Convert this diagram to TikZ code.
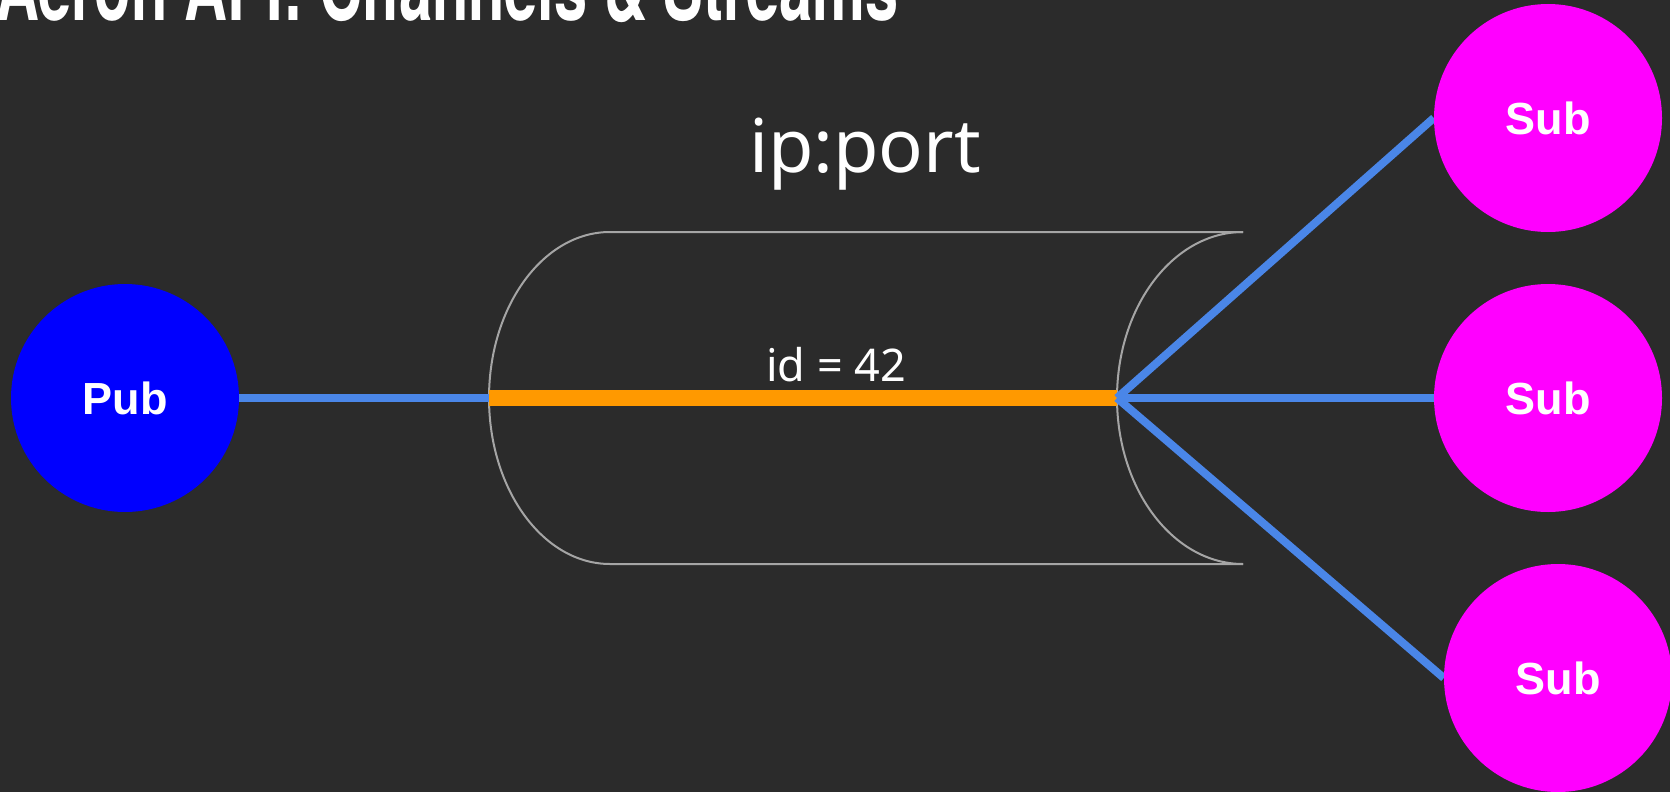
\documentclass[tikz,border=0pt]{standalone}
\usepackage{fontspec}
\usepackage{tikz}
\setmainfont{Noto Sans}
\newfontfamily\titlefont[FakeStretch=0.62]{TeX Gyre Heros}
\newfontfamily\nodefont{Liberation Sans}
\definecolor{slidebg}{RGB}{43,43,43}
\definecolor{pubblue}{RGB}{0,0,255}
\definecolor{submagenta}{RGB}{255,0,255}
\definecolor{wireblue}{RGB}{74,134,232}
\definecolor{streamorange}{RGB}{255,153,0}
\definecolor{pipegrey}{RGB}{165,165,165}
\pgfdeclarelayer{background}
\pgfdeclarelayer{edgelayer}
\pgfdeclarelayer{nodelayer}
\pgfsetlayers{background,edgelayer,nodelayer,main}
\tikzstyle{pub}=[circle,fill=pubblue,minimum size=228pt,inner sep=0pt,text=white,font=\nodefont\bfseries\fontsize{45}{45}\selectfont]
\tikzstyle{sub}=[pub,fill=submagenta]
\tikzstyle{wire}=[wireblue,line width=8pt]
\tikzstyle{stream}=[streamorange,line width=16pt]
\tikzstyle{pipe}=[pipegrey,line width=2pt]
\tikzstyle{caption}=[text=white,inner sep=0pt]

\begin{document}
\begin{tikzpicture}[x=1pt,y=-1pt]
        \useasboundingbox (0,0) rectangle (1670,792);
        \begin{pgfonlayer}{background}
            \fill [slidebg] (0,0) rectangle (1670,792);
        \end{pgfonlayer}

        \begin{pgfonlayer}{nodelayer}
            \node [caption, anchor=base west, font=\titlefont\bfseries\fontsize{96}{96}\selectfont] (title) at (-4, 21) {Aeron API: Channels \& Streams};
            \node [caption, font=\fontsize{74}{74}\selectfont] (port) at (865, 154) {ip:port};
            \node [caption, font=\fontsize{45}{45}\selectfont] (streamid) at (836, 365) {id = 42};

            \node [style = pub] (pub) at (125, 398) {Pub};
            \node [style = sub] (sub1) at (1548, 118) {Sub};
            \node [style = sub] (sub2) at (1548, 398) {Sub};
            \node [style = sub] (sub3) at (1558, 678) {Sub};

            \coordinate (pipein) at (489, 398);
            \coordinate (pipeout) at (1117, 398);
        \end{pgfonlayer}

        \begin{pgfonlayer}{edgelayer}
            % the channel pipe
            \draw [pipe] (1243, 232) -- (610, 232) arc [start angle=90, end angle=270, x radius=121pt, y radius=166pt] -- (1243, 564);
            \draw [pipe] (1243, 232) arc [start angle=90, end angle=270, x radius=126pt, y radius=166pt];

            \draw [wire] (pub) -- (pipein);
            \draw [stream] (pipein) -- (pipeout);
            \draw [wire] (pipeout) -- (sub1.west);
            \draw [wire] (pipeout) -- (sub2.west);
            \draw [wire] (pipeout) -- (sub3.west);
        \end{pgfonlayer}
    \end{tikzpicture}
\end{document}
